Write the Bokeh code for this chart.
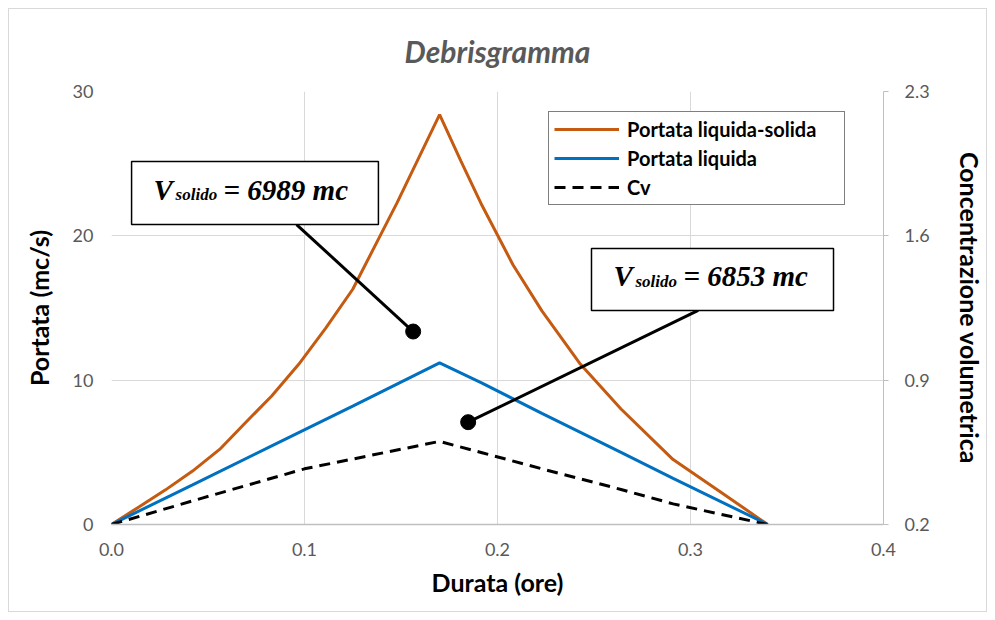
from bokeh.plotting import figure
from bokeh.models import (Range1d, LinearAxis, FixedTicker, Legend, LegendItem,
                          BoxAnnotation, Label, PrintfTickFormatter)
from bokeh.embed import file_html
from bokeh.resources import INLINE

# ---------------- data ----------------
durata_ls = [0, 0.014, 0.028, 0.042, 0.056, 0.069, 0.083, 0.097, 0.111, 0.125,
             0.148, 0.170, 0.181, 0.192, 0.208, 0.223, 0.243, 0.264, 0.291, 0.315, 0.340]
portata_ls = [0, 1.2, 2.4, 3.7, 5.2, 7.0, 8.9, 11.1, 13.6, 16.3,
              22.3, 28.4, 25.2, 22.1, 18.0, 14.8, 11.1, 8.0, 4.5, 2.3, 0]

durata_l = [0, 0.042, 0.083, 0.125, 0.170, 0.192, 0.223, 0.264, 0.291, 0.340]
portata_l = [0, 2.75, 5.45, 8.2, 11.2, 9.8, 7.7, 5.0, 3.2, 0]

durata_cv = [0, 0.047, 0.100, 0.170, 0.192, 0.223, 0.264, 0.291, 0.340]
cv = [0.2, 0.328, 0.47, 0.603, 0.548, 0.47, 0.37, 0.30, 0.2]

x_ticks = [0.0, 0.1, 0.2, 0.3, 0.4]
y_ticks = [0, 10, 20, 30]
cv_ticks = [0.2, 0.9, 1.6, 2.3]

series_names = ["Portata liquida-solida", "Portata liquida", "Cv"]
chart_title = "Debrisgramma"

# annotations (data units)
ann_value = ["= 6989 mc", "= 6853 mc"]
ann_box_left = [0.0104, 0.2487]
ann_box_right = [0.1383, 0.3741]
ann_box_top = [25.15, 19.12]
ann_box_bottom = [20.78, 14.83]
ann_text_x = [0.0218, 0.2601]
ann_text_y = [23.2, 17.2]
lead_x0 = [0.0959, 0.3040]
lead_y0 = [20.78, 14.83]
dot_x = [0.1563, 0.1848]
dot_y = [13.37, 7.09]

# ---------------- figure ----------------
GRAY = "#595959"
p = figure(width=979, height=604, output_backend="svg", toolbar_location=None,
           x_range=Range1d(0, 0.4), y_range=Range1d(0, 30),
           min_border_left=102, min_border_right=105, min_border_top=82,
           min_border_bottom=89)
p.styles = {"border": "1px solid #d9d9d9", "box-sizing": "border-box",
            "margin-left": "8px", "margin-top": "8px"}
p.extra_y_ranges = {"cv": Range1d(0.2, 2.3)}
p.outline_line_color = None

p.title.text = chart_title
p.title.align = "center"
p.title.vertical_align = "top"
p.title.text_font = "Lato"
p.title.text_font_style = "bold italic"
p.title.text_font_size = "30px"
p.title.text_color = GRAY
p.title.standoff = 42

# grids
p.xgrid.ticker = FixedTicker(ticks=x_ticks)
p.ygrid.ticker = FixedTicker(ticks=y_ticks)
for g in (p.xgrid, p.ygrid):
    g.grid_line_color = "#d9d9d9"
    g.grid_line_width = 1

# x axis
xa = p.xaxis[0]
xa.ticker = FixedTicker(ticks=x_ticks)
xa.formatter = PrintfTickFormatter(format="%.1f")
xa.axis_label = "Durata (ore)"
xa.axis_line_color = "#bfbfbf"
xa.axis_line_width = 1.5
xa.major_tick_line_color = None
xa.major_tick_out = 0
xa.major_tick_in = 0
xa.minor_tick_line_color = None
xa.major_label_standoff = 18
xa.axis_label_standoff = 8

# left axis
ya = p.yaxis[0]
ya.ticker = FixedTicker(ticks=y_ticks)
ya.axis_label = "Portata (mc/s)"
ya.axis_line_color = None
ya.major_tick_line_color = None
ya.major_tick_out = 0
ya.major_tick_in = 0
ya.minor_tick_line_color = None
ya.major_label_standoff = 18
ya.axis_label_standoff = 16

# right axis
ra = LinearAxis(y_range_name="cv", ticker=FixedTicker(ticks=cv_ticks),
                formatter=PrintfTickFormatter(format="%.1f"),
                axis_label="Concentrazione volumetrica")
ra.axis_line_color = "#bfbfbf"
ra.major_tick_line_color = "#bfbfbf"
ra.major_tick_out = 5
ra.major_tick_in = 0
ra.minor_tick_line_color = None
ra.major_label_standoff = 16
ra.axis_label_standoff = 22
p.add_layout(ra, "right")

for ax in (xa, ya, ra):
    ax.major_label_text_font = "Lato"
    ax.major_label_text_font_size = "18px"
    ax.major_label_text_color = GRAY
    ax.axis_label_text_font = "Lato"
    ax.axis_label_text_font_style = "bold"
    ax.axis_label_text_font_size = "25px"
    ax.axis_label_text_color = "black"

# series
r1 = p.line(durata_ls, portata_ls, line_color="#C55A11", line_width=3)
r2 = p.line(durata_l, portata_l, line_color="#0070C0", line_width=3)
r3 = p.line(durata_cv, cv, line_color="black", line_width=3, line_dash="11 7",
            y_range_name="cv")

# leader lines and dots
p.segment(x0=lead_x0, y0=lead_y0, x1=dot_x, y1=dot_y, line_color="black", line_width=3)
p.scatter(dot_x, dot_y, size=15, color="black")

# annotation boxes
for i in range(2):
    p.add_layout(BoxAnnotation(left=ann_box_left[i], right=ann_box_right[i],
                               top=ann_box_top[i], bottom=ann_box_bottom[i],
                               fill_color="white", fill_alpha=1,
                               line_color="black", line_width=1.5, line_alpha=1))
    common = dict(text_font="Liberation Serif", text_font_style="bold italic",
                  text_color="black", text_baseline="alphabetic")
    p.add_layout(Label(x=ann_text_x[i], y=ann_text_y[i], text="V",
                       text_font_size="29px", **common))
    p.add_layout(Label(x=ann_text_x[i], y=ann_text_y[i], text="solido", x_offset=22,
                       y_offset=-5, text_font_size="17px", **common))
    p.add_layout(Label(x=ann_text_x[i], y=ann_text_y[i], text=ann_value[i], x_offset=70,
                       text_font_size="29px", **common))

# legend
legend = Legend(items=[LegendItem(label=series_names[0], renderers=[r1]),
                       LegendItem(label=series_names[1], renderers=[r2]),
                       LegendItem(label=series_names[2], renderers=[r3])],
                location=(437, 319), margin=0, padding=5, spacing=5,
                glyph_width=65, glyph_height=20, label_height=20,
                label_standoff=8, label_width=212,
                border_line_color="black", border_line_width=1,
                background_fill_color="white", background_fill_alpha=1,
                label_text_font="Lato", label_text_font_style="bold",
                label_text_font_size="20px", label_text_color="black")
p.add_layout(legend)

open("out.html", "w").write(file_html(p, INLINE))
